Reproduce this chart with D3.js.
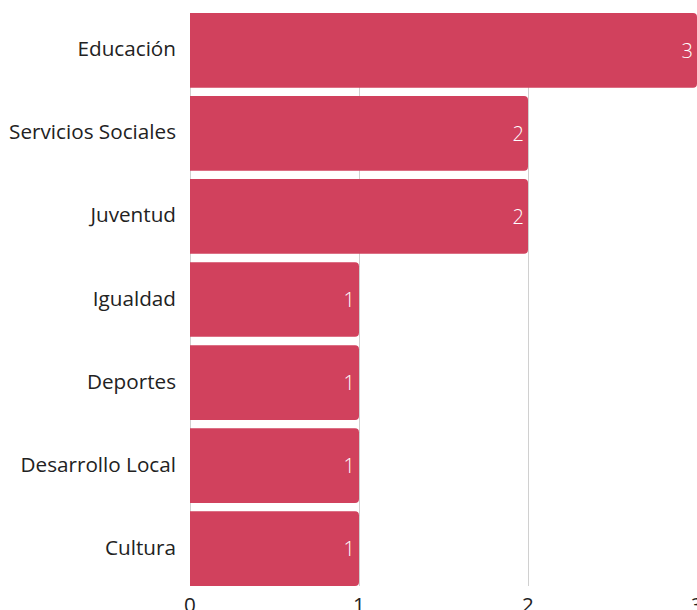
<!DOCTYPE html>
<html><head><meta charset="utf-8">
<script src="https://cdn.jsdelivr.net/npm/d3@7"></script>
<style>body{margin:0;background:#fff;}svg{display:block;font-family:"Open Sans",sans-serif;}</style>
</head><body>
<script>
const categories = ["Educación","Servicios Sociales","Juventud","Igualdad","Deportes","Desarrollo Local","Cultura"];
const values = [3,2,2,1,1,1,1];
const tickValues = [0,1,2,3];

const W = 697, H = 610;
const margin = {left:190, right:0, top:13, bottom:24};
const svg = d3.select("body").append("svg").attr("width",W).attr("height",H);

const x = d3.scaleLinear().domain([0,3]).range([margin.left, W - margin.right]);
const y = d3.scaleBand().domain(categories).range([margin.top, H - margin.bottom]).paddingInner(0.1).paddingOuter(0);

// gridlines
svg.append("g").selectAll("line").data(tickValues).join("line")
  .attr("x1", d=>x(d)).attr("x2", d=>x(d))
  .attr("y1", margin.top).attr("y2", H - margin.bottom)
  .attr("stroke", "#d0d0d0").attr("stroke-width", 1).attr("shape-rendering","crispEdges");

const r = 4;
function barPath(x0, x1, y0, h){
  const rr = Math.min(r, (x1-x0));
  return `M${x0},${y0}H${x1-rr}Q${x1},${y0} ${x1},${y0+rr}V${y0+h-rr}Q${x1},${y0+h} ${x1-rr},${y0+h}H${x0}Z`;
}
const data = categories.map((c,i)=>({c, v: values[i]}));
svg.append("g").selectAll("path").data(data).join("path")
  .attr("d", d=>barPath(x(0), x(d.v), y(d.c), y.bandwidth()))
  .attr("fill", "#d1415d");

svg.append("g").selectAll("text").data(data).join("text")
  .attr("x", d=>x(d.v) - 4).attr("y", d=>y(d.c) + y.bandwidth()/2 + 7.5)
  .attr("text-anchor","end").attr("font-weight",300)
  .attr("fill","#fff").attr("font-size",20).text(d=>d.v);

// category labels
svg.append("g").selectAll("text").data(categories).join("text")
  .attr("x", margin.left - 14).attr("y", d=>y(d) + y.bandwidth()/2 + 6)
  .attr("text-anchor","end")
  .attr("fill","#222").attr("font-size",20.7).text(d=>d);

// x tick labels
svg.append("g").selectAll("text").data(tickValues).join("text")
  .attr("x", d=>x(d)).attr("y", 612)
  .attr("text-anchor","middle").attr("fill","#222").attr("font-size",20.7).text(d=>d);
</script>
</body></html>
